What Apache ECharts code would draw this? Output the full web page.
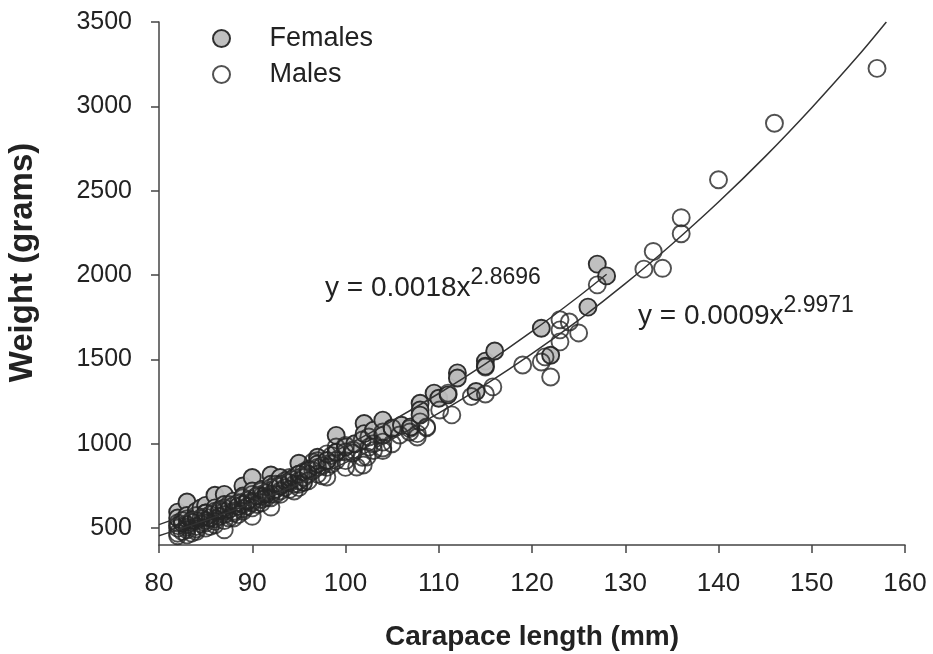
<!DOCTYPE html>
<html lang="en">
<head>
    <meta charset="UTF-8">
    <title>carapace_weight</title>
    <script src="https://cdn.jsdelivr.net/npm/echarts@6/dist/echarts.min.js"></script>
    <style>
        body{margin:0;background:#fff}
        #chart{width:933px;height:654px}
    </style>
</head>
<body>
    <div id="chart"></div>
    <script>
        // points grouped by carapace length (mm) -> weights (g)
        var femaleLength = [82,82.5,83,83.5,84,84.5,85,85.5,86,86.5,87,87.5,88,88.5,89,89.5,90,90.5,91,91.5,92,92.5,93,94,94.5,95,95.5,96,97,98,99,100,101,102,103,104,105,106,107,108,109.5,110,111,112,114,115,116,121,122,126,127,128];
        var femaleWeight = [[595,560],[530],[655,575],[545],[600,560],[620],[635,590],[560],[695,620],[600],[700,640],[610],[660],[630],[750,690],[660],[800,720],[690],[730],[700],[815,760],[730],[800,750],[780],[800],[885,820],[770],[840],[920,880],[900],[1050,950],[980],[1000],[1120,1060],[1080],[1140,1050],[1090],[1110],[1100],[1240,1200,1170],[1300],[1270],[1290],[1420,1390],[1310],[1490,1460],[1550],[1685],[1525],[1810],[2065],[1995]];

        var maleLength = [82,82.5,83,83.5,84,84.5,85,85.5,86,86.5,87,87.5,88,88.5,89,89.5,90,90.5,91,91.5,92,92.5,93,93.5,94,94.5,95,95.5,96,96.5,97,97.5,98,98.5,99,100,100.8,101.2,101.8,101.9,102.3,102.5,103,104,105,105.8,106.9,107.7,108,108.7,110.1,111,111.4,113.5,115,115.8,119,121,121.4,122,123,124,125,127,132,133,134,136,140,146,157];
        var maleWeight = [[470,500,530,455,515],[480,545],[460,490,520,555,505],[470,535],[480,510,545,575,495],[525,560],[500,530,565,590,545],[510,580],[520,555,600,540],[570,610],[490,545,580,620,600],[560,640],[560,600,635,590],[580,650],[600,640,680,615],[630,665],[570,620,660,700,650],[640,690],[650,690,720,670],[680,710],[625,700,740,680],[700,760],[720,760,700],[740,780],[730,770,800],[760,720],[740,780,820,760],[800,833],[780,820,850],[892,840],[820,860,900],[810,870],[803,860,900,940],[880,930],[981,900,950],[951,900,860,990],[963,945],[862],[1022,920],[874],[922],[980,1040],[960,1000],[1070,1010,975,960],[1094,1000],[1052],[1070,1090],[1040,1060],[1130],[1094,1100],[1200],[1300],[1171],[1280],[1295,1455],[1337],[1467],[1485],[1515],[1396],[1735,1675,1604],[1722],[1657],[1942],[2035],[2140],[2040],[2340,2245],[2565],[2900],[3225]];

        // fitted curves
        var femaleFitX = [80,85,90,95,100,105,110,115,120,125,128];
        var femaleFitY = [521,620,730,852,988,1136,1298,1474,1666,1873,2005];
        var maleFitX = [80,85,90,95,100,105,110,115,120,125,130,135,140,145,150,155,158];
        var maleFitY = [455,546,648,762,888,1028,1182,1350,1534,1733,1949,2183,2433,2702,2992,3301,3500];

        var xTicks = [80,90,100,110,120,130,140,150,160];
        var yTicks = [500,1000,1500,2000,2500,3000,3500];

        function flat(xs, ys){
            var out=[];
            for(var i=0;i<xs.length;i++){
                for(var j=0;j<ys[i].length;j++){ out.push([xs[i], ys[i][j]]); }
            }
            return out;
        }
        function pairs(xs, ys){
            var out=[];
            for(var i=0;i<xs.length;i++){ out.push([xs[i], ys[i]]); }
            return out;
        }

        var font = 'Liberation Sans, Arial, sans-serif';
        var ink = '#222';
        var mychart = echarts.init(document.getElementById('chart'));
        var option = {
            animation:false,
            textStyle:{fontFamily:font},
            grid:{left:159,right:28,top:22,bottom:109,outerBoundsMode:'none',containLabel:false},
            legend:{
                data:['Females','Males'],
                orient:'vertical',
                left:207, top:20,
                itemWidth:86, itemHeight:17, itemGap:9,
                textStyle:{fontSize:27,color:ink,fontFamily:font}
            },
            xAxis:{
                type:'value', min:80, max:160, interval:10,
                name:'Carapace length (mm)', nameLocation:'middle', nameGap:78,
                nameTextStyle:{fontSize:28,fontWeight:'bold',color:ink,fontFamily:font},
                axisLine:{onZero:false,lineStyle:{color:'#444',width:1.5}},
                axisTick:{length:8,lineStyle:{color:'#444',width:1.5}},
                axisLabel:{margin:26,fontSize:26,color:ink,fontFamily:font,customValues:xTicks},
                splitLine:{show:false}
            },
            yAxis:{
                type:'value', min:400, max:3500,
                name:'Weight (grams)', nameLocation:'middle', nameGap:120,
                nameTextStyle:{fontSize:33,fontWeight:'bold',color:ink,fontFamily:font,padding:[0,0,0,42]},
                axisLine:{onZero:false,lineStyle:{color:'#444',width:1.5}},
                axisTick:{length:8,customValues:yTicks,lineStyle:{color:'#444',width:1.5}},
                axisLabel:{margin:27,fontSize:25,color:ink,fontFamily:font,customValues:yTicks,
                    formatter:function(v){return String(v);}},
                splitLine:{show:false}
            },
            series:[
                {
                    name:'Females', type:'scatter', symbol:'circle', symbolSize:17,
                    data:flat(femaleLength, femaleWeight),
                    itemStyle:{color:'#bdbdbd',borderColor:'#262626',borderWidth:1.9,opacity:0.95},
                    z:2
                },
                {
                    name:'Males', type:'scatter', symbol:'circle', symbolSize:17,
                    data:flat(maleLength, maleWeight),
                    itemStyle:{color:'rgba(255,255,255,0)',borderColor:'#262626',borderWidth:1.9},
                    z:3
                },
                {
                    name:'Female fit', type:'line', data:pairs(femaleFitX, femaleFitY),
                    showSymbol:false, smooth:0.3, silent:true,
                    lineStyle:{color:'#333',width:1.5}, z:4
                },
                {
                    name:'Male fit', type:'line', data:pairs(maleFitX, maleFitY),
                    showSymbol:false, smooth:0.3, silent:true,
                    lineStyle:{color:'#333',width:1.5}, z:4
                }
            ],
            graphic:[
                {
                    type:'text', left:325, top:266,
                    style:{
                        text:'{m|y = 0.0018x}{s|2.8696}',
                        rich:{
                            m:{fontSize:28,fill:ink,fontFamily:font,lineHeight:36,verticalAlign:'bottom'},
                            s:{fontSize:23,fill:ink,fontFamily:font,verticalAlign:'top'}
                        }
                    }
                },
                {
                    type:'text', left:638, top:294,
                    style:{
                        text:'{m|y = 0.0009x}{s|2.9971}',
                        rich:{
                            m:{fontSize:28,fill:ink,fontFamily:font,lineHeight:36,verticalAlign:'bottom'},
                            s:{fontSize:23,fill:ink,fontFamily:font,verticalAlign:'top'}
                        }
                    }
                }
            ]
        };
        mychart.setOption(option);
    </script>
</body>
</html>
